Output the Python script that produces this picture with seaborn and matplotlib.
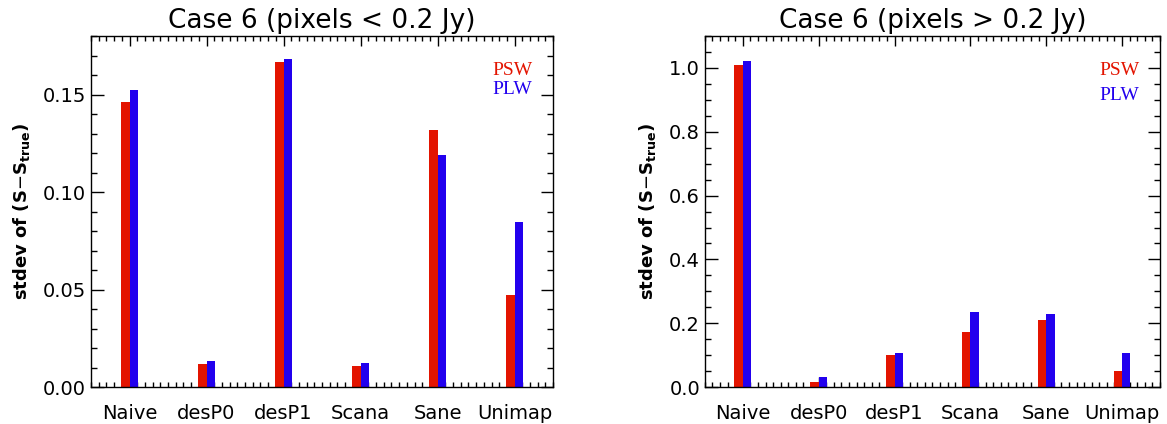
import numpy as np
import pandas as pd
import matplotlib
matplotlib.use("Agg")
import matplotlib.pyplot as plt
from matplotlib.ticker import MultipleLocator, FixedLocator, FormatStrFormatter
import seaborn as sns

# Values
methods = ['Naive', 'desP0', 'desP1', 'Scana', 'Sane', 'Unimap']
bands = ['PSW', 'PLW']
faint_psw = [0.1462, 0.0119, 0.1665, 0.0109, 0.1320, 0.0473]
faint_plw = [0.1525, 0.0135, 0.1684, 0.0123, 0.1189, 0.0844]
bright_psw = [1.010, 0.016, 0.101, 0.172, 0.210, 0.049]
bright_plw = [1.022, 0.032, 0.106, 0.236, 0.229, 0.106]

colors = {'PSW': '#e31400', 'PLW': '#2200ee'}

sns.set_style("white")
plt.rcParams['font.family'] = ['DejaVu Sans']
plt.rcParams['text.color'] = 'black'
plt.rcParams['axes.labelcolor'] = 'black'
plt.rcParams['xtick.color'] = 'black'
plt.rcParams['ytick.color'] = 'black'


def long_form(psw, plw):
    return pd.DataFrame({
        'method': methods * 2,
        'band': ['PSW'] * len(methods) + ['PLW'] * len(methods),
        'value': psw + plw,
    })


def draw_panel(ax, df, title, ymax, major, minor, key_y):
    sns.barplot(data=df, x='method', y='value', hue='band', hue_order=bands,
                order=methods, palette=colors, width=0.22, gap=0,
                saturation=1, edgecolor='none', legend=False, ax=ax)
    ax.set_xlim(-0.5, 5.5)
    ax.set_ylim(0, ymax)
    ax.set_title(title, fontsize=19, pad=6, color='black')
    ax.set_xlabel('')
    ax.set_ylabel(r'stdev of (S$-$S$_\mathbf{true}$)', fontsize=13,
                  fontweight='bold', labelpad=8)
    ax.yaxis.set_major_locator(MultipleLocator(major))
    ax.yaxis.set_minor_locator(MultipleLocator(minor))
    ax.xaxis.set_minor_locator(FixedLocator(np.arange(-0.5, 5.51, 0.1)))
    ax.tick_params(axis='both', which='both', direction='in',
                   top=True, right=True, left=True, bottom=True,
                   color='black', width=1)
    ax.tick_params(axis='y', which='major', length=9, labelsize=14)
    ax.tick_params(axis='y', which='minor', length=4.5)
    ax.tick_params(axis='x', which='major', length=7, labelsize=14, pad=12)
    ax.tick_params(axis='x', which='minor', length=3.5)
    for side in ax.spines.values():
        side.set_color('black')
        side.set_linewidth(1)
    ax.text(0.955, key_y[0], 'PSW', color=colors['PSW'], transform=ax.transAxes,
            ha='right', va='center', fontsize=14, family='Liberation Serif')
    ax.text(0.955, key_y[1], 'PLW', color=colors['PLW'], transform=ax.transAxes,
            ha='right', va='center', fontsize=14, family='Liberation Serif')


fig = plt.figure(figsize=(11.67, 4.24), dpi=100)
ax1 = fig.add_axes([0.078, 0.087, 0.396, 0.828])
ax2 = fig.add_axes([0.604, 0.087, 0.390, 0.828])

draw_panel(ax1, long_form(faint_psw, faint_plw), 'Case 6 (pixels < 0.2 Jy)',
           0.18, 0.05, 0.01, (0.903, 0.849))
ax1.yaxis.set_major_formatter(FormatStrFormatter('%.2f'))

draw_panel(ax2, long_form(bright_psw, bright_plw), 'Case 6 (pixels > 0.2 Jy)',
           1.1, 0.2, 0.05, (0.903, 0.832))
ax2.yaxis.set_major_formatter(FormatStrFormatter('%.1f'))

fig.savefig('out.png', dpi=100)
